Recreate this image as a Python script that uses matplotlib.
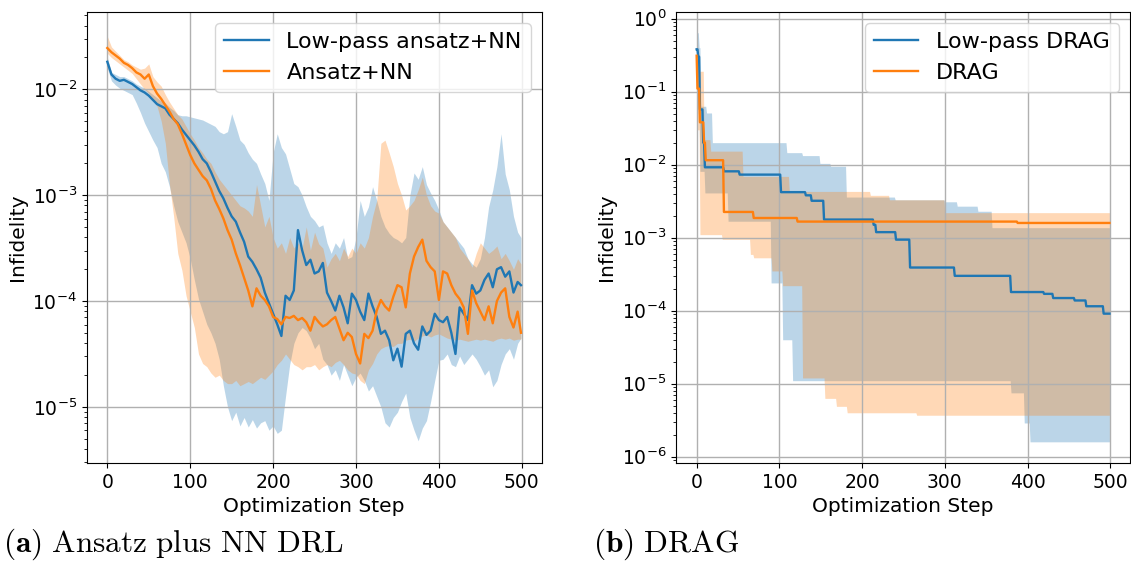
import numpy as np
import matplotlib.pyplot as plt

# ---- panel (a): values read every 5 steps, stored as log10(infidelity) ----
steps_a = np.array(list(range(0, 500, 5)) + [499])

lowpass_nn = [-1.74, -1.86, -1.90, -1.92, -1.91, -1.93, -1.95, -1.98, -2.01, -2.03,
              -2.06, -2.10, -2.14, -2.16, -2.18, -2.24, -2.28, -2.32, -2.38, -2.43,
              -2.48, -2.53, -2.59, -2.66, -2.70, -2.78, -2.87, -2.96, -3.03, -3.12,
              -3.20, -3.25, -3.35, -3.44, -3.58, -3.63, -3.70, -3.78, -3.92, -4.02,
              -4.12, -4.22, -4.33, -3.95, -3.99, -3.90, -3.33, -3.52, -3.66, -3.61,
              -3.74, -3.72, -3.64, -3.92, -4.00, -4.09, -3.95, -4.06, -4.21, -3.93,
              -3.99, -4.10, -4.18, -3.93, -4.05, -4.15, -4.31, -4.28, -4.37, -4.56,
              -4.45, -4.62, -4.31, -4.28, -4.40, -4.46, -4.24, -4.32, -4.28, -4.12,
              -4.18, -4.20, -4.15, -4.30, -4.50, -4.06, -4.12, -4.18, -3.85, -3.93,
              -3.90, -3.80, -3.74, -3.87, -3.70, -3.68, -3.77, -3.72, -3.92, -3.82,
              -3.85]
lowpass_nn_lo = [-1.80, -1.92, -1.96, -1.99, -2.01, -2.03, -2.05, -2.13, -2.22, -2.32,
                 -2.40, -2.48, -2.55, -2.70, -2.78, -2.92, -3.10, -3.25, -3.35, -3.45,
                 -3.60, -3.80, -3.98, -4.10, -4.22, -4.30, -4.40, -4.55, -4.80, -5.00,
                 -5.13, -5.05, -5.18, -5.10, -5.19, -5.12, -5.20, -5.15, -5.13, -5.22,
                 -5.18, -5.25, -5.22, -4.90, -4.60, -4.40, -4.30, -4.25, -4.28, -4.35,
                 -4.45, -4.40, -4.55, -4.60, -4.70, -4.65, -4.75, -4.60, -4.70, -4.80,
                 -4.72, -4.68, -4.75, -4.85, -4.80, -4.90, -5.00, -5.15, -5.19, -5.10,
                 -5.05, -4.95, -4.87, -5.10, -5.22, -5.32, -5.20, -5.13, -4.95, -4.75,
                 -4.56, -4.55, -4.50, -4.60, -4.62, -4.52, -4.60, -4.55, -4.50, -4.55,
                 -4.62, -4.70, -4.65, -4.81, -4.75, -4.60, -4.50, -4.45, -4.55, -4.40,
                 -4.35]
lowpass_nn_hi = [-1.70, -1.84, -1.86, -1.88, -1.88, -1.90, -1.92, -1.95, -1.97, -1.99,
                 -2.02, -2.05, -2.08, -2.11, -2.13, -2.17, -2.20, -2.24, -2.25, -2.25,
                 -2.26, -2.27, -2.28, -2.29, -2.31, -2.33, -2.35, -2.40, -2.42, -2.40,
                 -2.23, -2.35, -2.48, -2.52, -2.60, -2.66, -2.70, -2.80, -2.89, -3.05,
                 -2.60, -2.42, -2.55, -2.61, -2.75, -2.89, -2.92, -3.00, -3.11, -3.20,
                 -3.24, -3.30, -3.28, -3.45, -3.55, -3.45, -3.50, -3.40, -3.60, -3.58,
                 -3.40, -3.05, -3.20, -3.11, -2.92, -3.05, -3.20, -3.30, -3.36, -3.40,
                 -3.42, -3.45, -3.40, -3.00, -2.79, -2.85, -2.73, -2.90, -2.98, -3.05,
                 -3.14, -3.25, -3.30, -3.35, -3.40, -3.45, -3.50, -3.60, -3.65, -3.68,
                 -3.60, -3.40, -3.11, -2.95, -2.73, -2.42, -2.80, -2.95, -3.20, -3.35,
                 -3.40]

ansatz_nn = [-1.61, -1.65, -1.68, -1.71, -1.75, -1.77, -1.80, -1.84, -1.86, -1.90,
             -1.86, -1.97, -2.04, -2.09, -2.15, -2.21, -2.28, -2.33, -2.42, -2.52,
             -2.62, -2.70, -2.76, -2.82, -2.86, -2.94, -3.05, -3.13, -3.22, -3.33,
             -3.42, -3.55, -3.66, -3.78, -3.90, -4.05, -3.88, -3.95, -3.99, -4.05,
             -4.15, -4.17, -4.22, -4.15, -4.16, -4.14, -4.18, -4.16, -4.20, -4.28,
             -4.15, -4.20, -4.24, -4.22, -4.18, -4.15, -4.26, -4.37, -4.30, -4.34,
             -4.50, -4.59, -4.31, -4.35, -4.28, -4.09, -3.99, -4.05, -4.09, -3.96,
             -3.85, -3.87, -4.06, -3.74, -3.58, -3.49, -3.42, -3.62, -3.68, -3.72,
             -3.99, -3.72, -3.74, -3.85, -3.93, -3.98, -4.06, -4.31, -3.90, -4.02,
             -4.10, -4.18, -4.05, -4.21, -4.00, -3.92, -3.88, -4.15, -4.25, -4.10,
             -4.30]
ansatz_nn_lo = [-1.66, -1.70, -1.73, -1.76, -1.79, -1.82, -1.85, -1.90, -1.95, -2.00,
                -2.04, -2.10, -2.16, -2.30, -2.51, -2.90, -3.20, -3.55, -3.71, -3.95,
                -4.10, -4.25, -4.50, -4.59, -4.62, -4.68, -4.72, -4.70, -4.75, -4.78,
                -4.78, -4.75, -4.80, -4.78, -4.76, -4.78, -4.75, -4.72, -4.74, -4.70,
                -4.66, -4.60, -4.56, -4.50, -4.55, -4.60, -4.62, -4.65, -4.62, -4.62,
                -4.60, -4.65, -4.62, -4.60, -4.62, -4.58, -4.56, -4.60, -4.65, -4.68,
                -4.69, -4.75, -4.78, -4.65, -4.59, -4.50, -4.45, -4.43, -4.42, -4.43,
                -4.40, -4.40, -4.37, -4.36, -4.38, -4.35, -4.33, -4.32, -4.34, -4.32,
                -4.31, -4.33, -4.35, -4.36, -4.37, -4.36, -4.37, -4.38, -4.37, -4.36,
                -4.37, -4.36, -4.37, -4.38, -4.36, -4.35, -4.36, -4.35, -4.37, -4.36,
                -4.36]
ansatz_nn_hi = [-1.50, -1.60, -1.64, -1.68, -1.72, -1.74, -1.77, -1.79, -1.81, -1.80,
                -1.76, -1.88, -1.93, -1.97, -2.05, -2.12, -2.18, -2.24, -2.28, -2.35,
                -2.42, -2.48, -2.55, -2.60, -2.66, -2.70, -2.78, -2.85, -2.90, -2.95,
                -3.00, -3.05, -3.10, -3.12, -3.15, -3.20, -2.90, -3.10, -3.30, -3.20,
                -3.40, -3.50, -3.45, -3.55, -3.40, -3.50, -3.45, -3.50, -3.30, -3.52,
                -3.35, -3.46, -3.50, -3.68, -3.60, -3.55, -3.62, -3.50, -3.58, -3.50,
                -3.55, -3.45, -3.50, -3.40, -3.20, -3.05, -2.51, -2.48, -2.60, -2.73,
                -2.89, -3.00, -3.14, -3.10, -3.05, -2.95, -2.83, -3.00, -3.10, -3.15,
                -3.17, -3.25, -3.30, -3.35, -3.40, -3.50, -3.55, -3.60, -3.68, -3.55,
                -3.45, -3.50, -3.55, -3.52, -3.48, -3.60, -3.55, -3.62, -3.70, -3.60,
                -3.65]

# ---- panel (b): best-so-far curves, given as (step where value changes, value) ----
lp_drag_x = [0, 2, 4, 8, 10, 33, 52, 102, 132, 139, 154, 214, 217, 241, 258, 312,
             380, 420, 431, 457, 471, 492]
lp_drag_y = [0.38, 0.30, 0.057, 0.02, 0.0092, 0.0081, 0.0073, 0.0042, 0.0038, 0.0032,
             0.00177, 0.0015, 0.00119, 0.00094, 0.00039, 0.00030, 0.00018, 0.00017,
             0.000149, 0.000138, 0.000115, 0.0000911]
lp_drag_lo_x = [0, 2, 4, 10, 38, 90, 104, 116, 380, 396, 403]
lp_drag_lo_y = [0.30, 0.05, 0.0081, 0.0041, 0.00168, 0.00024, 0.00004, 0.000011,
                0.0000075, 0.0000029, 0.0000016]
lp_drag_hi_x = [0, 3, 5, 12, 19, 109, 128, 149, 162, 181, 240, 300, 315, 340, 357]
lp_drag_hi_y = [0.64, 0.4, 0.063, 0.051, 0.020, 0.0146, 0.0133, 0.0104, 0.0095,
                0.0036, 0.0033, 0.0031, 0.0027, 0.0023, 0.00137]

drag_x = [0, 1, 4, 9, 11, 33, 69, 122, 388]
drag_y = [0.31, 0.11, 0.038, 0.02, 0.0115, 0.00225, 0.00186, 0.00166, 0.00159]
drag_lo_x = [0, 1, 4, 31, 65, 69, 91, 104, 128, 155, 169, 182, 266]
drag_lo_y = [0.25, 0.03, 0.0011, 0.00095, 0.00059, 0.00053, 0.00035, 0.00022,
             0.000012, 0.0000063, 0.0000049, 0.000004, 0.0000037]
drag_hi_x = [0, 2, 9, 17, 56, 112, 210, 233, 300]
drag_hi_y = [0.5, 0.19, 0.022, 0.0153, 0.0069, 0.0043, 0.0038, 0.0033, 0.0022]

steps_b = np.arange(500)


def hold(xb, yb):
    # value of a best-so-far curve at every optimization step
    idx = np.searchsorted(xb, steps_b, side="right") - 1
    return np.asarray(yb)[idx]


blue = "tab:blue"
orange = "tab:orange"

fig = plt.figure(figsize=(11.31, 5.70), dpi=100)
ax1 = fig.add_axes([0.0766, 0.1877, 0.4023, 0.7912])
ax2 = fig.add_axes([0.5977, 0.1877, 0.4015, 0.7912])

# Panel (a)
ax1.fill_between(steps_a, 10 ** np.array(lowpass_nn_lo), 10 ** np.array(lowpass_nn_hi),
                 color=blue, alpha=0.3, linewidth=0)
ax1.fill_between(steps_a, 10 ** np.array(ansatz_nn_lo), 10 ** np.array(ansatz_nn_hi),
                 color=orange, alpha=0.3, linewidth=0)
ax1.plot(steps_a, 10 ** np.array(lowpass_nn), color=blue, lw=1.7, label="Low-pass ansatz+NN")
ax1.plot(steps_a, 10 ** np.array(ansatz_nn), color=orange, lw=1.7, label="Ansatz+NN")
ax1.set_ylim(10 ** -5.53, 10 ** -1.27)

# Panel (b)
ax2.fill_between(steps_b, hold(lp_drag_lo_x, lp_drag_lo_y), hold(lp_drag_hi_x, lp_drag_hi_y),
                 color=blue, alpha=0.3, linewidth=0)
ax2.fill_between(steps_b, hold(drag_lo_x, drag_lo_y), hold(drag_hi_x, drag_hi_y),
                 color=orange, alpha=0.3, linewidth=0)
ax2.plot(steps_b, hold(lp_drag_x, lp_drag_y), color=blue, lw=1.7, label="Low-pass DRAG")
ax2.plot(steps_b, hold(drag_x, drag_y), color=orange, lw=1.7, label="DRAG")
ax2.set_ylim(10 ** -6.086, 10 ** 0.09)

for ax in (ax1, ax2):
    ax.set_yscale("log")
    ax.set_xticks([0, 100, 200, 300, 400, 500])
    ax.grid(True, which="major", color="#b0b0b0", linewidth=1)
    ax.tick_params(labelsize=13.5)
    ax.set_xlabel("Optimization Step", fontsize=14.5)
    ax.set_ylabel("Infidelity", fontsize=14.5)
    ax.legend(loc="upper right", fontsize=16)

fig.text(0.003, 0.032, r"$\mathbf{(a)}\ \mathrm{Ansatz\ plus\ NN\ DRL}$",
         fontsize=22.5, math_fontfamily="cm")
fig.text(0.524, 0.032, r"$\mathbf{(b)}\ \mathrm{DRAG}$",
         fontsize=22.5, math_fontfamily="cm")

fig.savefig("out.png", dpi=100, facecolor="white")
